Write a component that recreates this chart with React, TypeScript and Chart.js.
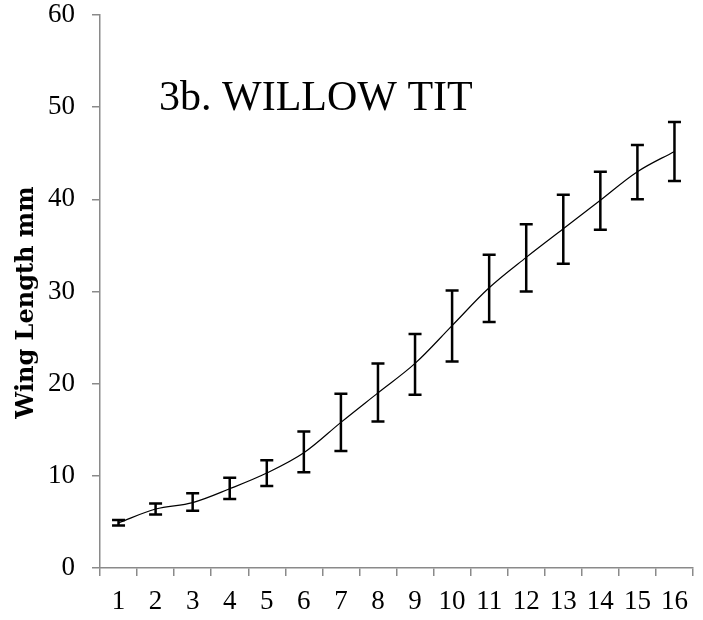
import React, { useEffect, useRef } from "react";
import { Chart, registerables } from "chart.js";

Chart.register(...registerables);

const categories = ["1", "2", "3", "4", "5", "6", "7", "8", "9", "10", "11", "12", "13", "14", "15", "16"];
const meanLength = [4.9, 6.4, 7.1, 8.6, 10.3, 12.5, 15.8, 19.0, 22.2, 26.3, 30.4, 33.7, 36.8, 39.9, 43.0, 45.2];
const lowerBound = [4.6, 5.8, 6.2, 7.5, 8.9, 10.4, 12.7, 15.9, 18.8, 22.4, 26.7, 30.0, 33.0, 36.7, 40.0, 42.0];
const upperBound = [5.2, 7.0, 8.1, 9.8, 11.7, 14.8, 18.9, 22.2, 25.4, 30.1, 34.0, 37.3, 40.5, 43.0, 45.9, 48.4];
const yMin = 0;
const yMax = 60;
const yStep = 10;
const chartTitle = "3b. WILLOW TIT";
const yAxisTitle = "Wing Length mm";

const AXIS_COLOR = "#8a8a8a";
const FONT = "'Liberation Serif', 'Times New Roman', serif";
const TITLE_FONT = "'DejaVu Serif', 'Liberation Serif', serif";

const errorBarPlugin = {
  id: "errorBars",
  afterDatasetsDraw(chart: any) {
    const { ctx, scales } = chart;
    const xs = scales.x;
    const ys = scales.y;
    ctx.save();
    ctx.strokeStyle = "#000";
    ctx.lineWidth = 2.5;
    ctx.lineCap = "butt";
    for (let i = 0; i < categories.length; i++) {
      const x = xs.getPixelForValue(i);
      const yTop = ys.getPixelForValue(upperBound[i]);
      const yBot = ys.getPixelForValue(lowerBound[i]);
      const cap = 6.5;
      ctx.beginPath();
      ctx.moveTo(x, yTop);
      ctx.lineTo(x, yBot);
      ctx.moveTo(x - cap, yTop);
      ctx.lineTo(x + cap, yTop);
      ctx.moveTo(x - cap, yBot);
      ctx.lineTo(x + cap, yBot);
      ctx.stroke();
    }
    ctx.restore();
  },
};

const titlePlugin = {
  id: "innerTitle",
  afterDraw(chart: any) {
    const { ctx, chartArea } = chart;
    ctx.save();
    ctx.fillStyle = "#000";
    ctx.font = `42px ${FONT}`;
    ctx.textAlign = "left";
    ctx.textBaseline = "alphabetic";
    ctx.fillText(chartTitle, chartArea.left + 59, chartArea.top + 95);
    ctx.restore();

    // y-axis title
    ctx.save();
    ctx.fillStyle = "#000";
    ctx.font = `bold 24px ${TITLE_FONT}`;
    ctx.textAlign = "center";
    ctx.textBaseline = "middle";
    const cy = (chartArea.top + chartArea.bottom) / 2 + 11;
    ctx.translate(27, cy);
    ctx.rotate(-Math.PI / 2);
    ctx.fillText(yAxisTitle, 0, 0);
    ctx.restore();
  },
};

export default function App() {
  const canvasRef = useRef<HTMLCanvasElement | null>(null);

  useEffect(() => {
    const canvas = canvasRef.current;
    if (!canvas) return;
    const chart = new Chart(canvas, {
      type: "line",
      data: {
        labels: categories,
        datasets: [
          {
            data: meanLength,
            borderColor: "#000",
            borderWidth: 1.2,
            pointRadius: 0,
            tension: 0.35,
            fill: false,
          },
        ],
      },
      options: {
        responsive: false,
        animation: false,
        devicePixelRatio: 1,
        layout: { padding: { top: 15, right: 10, left: 0, bottom: 0 } },
        plugins: {
          legend: { display: false },
          tooltip: { enabled: false },
          title: { display: false },
        },
        scales: {
          x: {
            type: "category",
            offset: true,
            grid: {
              display: true,
              offset: true,
              drawOnChartArea: false,
              drawTicks: true,
              tickLength: 8,
              color: AXIS_COLOR,
              lineWidth: 1.5,
            },
            border: { display: true, color: AXIS_COLOR, width: 1.5 },
            ticks: {
              color: "#000",
              font: { family: FONT, size: 27 },
              padding: 10,
              maxRotation: 0,
              autoSkip: false,
            },
            afterFit(scale: any) {
              scale.height = 52;
              scale.paddingLeft = 0;
              scale.paddingRight = 0;
            },
          },
          y: {
            min: yMin,
            max: yMax,
            grid: {
              display: true,
              drawOnChartArea: false,
              drawTicks: true,
              tickLength: 8,
              color: AXIS_COLOR,
              lineWidth: 1.5,
            },
            border: { display: true, color: AXIS_COLOR, width: 1.5 },
            ticks: {
              stepSize: yStep,
              color: "#000",
              font: { family: FONT, size: 27 },
              padding: 17,
            },
            title: { display: false },
            afterFit(scale: any) {
              scale.width = 100;
              scale.paddingTop = 0;
              scale.paddingBottom = 0;
            },
          },
        },
      },
      plugins: [errorBarPlugin, titlePlugin],
    });
    return () => chart.destroy();
  }, []);

  return (
    <div style={{ position: "absolute", left: 0, top: 0, width: 703, height: 620, background: "#fff" }}>
      <canvas ref={canvasRef} width={703} height={620} style={{ width: 703, height: 620, display: "block" }} />
    </div>
  );
}
